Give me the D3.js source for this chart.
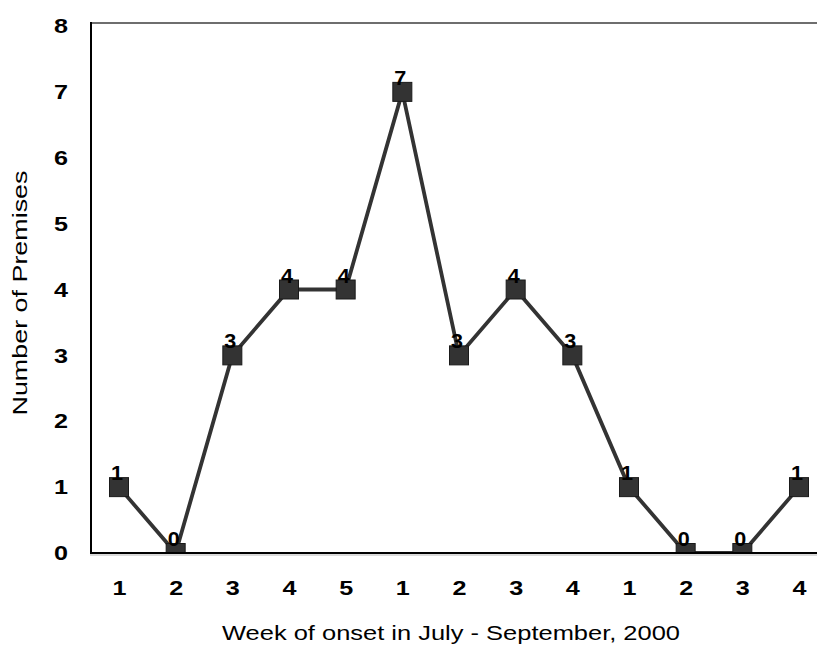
<!DOCTYPE html>
<html>
<head>
<meta charset="utf-8">
<script src="https://cdn.jsdelivr.net/npm/d3@7"></script>
<style>
  html, body { margin: 0; padding: 0; background: #fff; }
  svg { display: block; font-family: "Liberation Sans", Arial, sans-serif; }
</style>
</head>
<body>
<svg id="chart" width="817" height="646"></svg>
<script>
// Week of onset within each month (July, August, September 2000)
const weekLabels = ["1", "2", "3", "4", "5", "1", "2", "3", "4", "1", "2", "3", "4"];
// Number of premises with onset in each week
const premises = [1, 0, 3, 4, 4, 7, 3, 4, 3, 1, 0, 0, 1];
// Y-axis tick values
const yTicks = [0, 1, 2, 3, 4, 5, 6, 7, 8];

const svg = d3.select("#chart");
const W = 817, H = 646;
const plotLeft = 91, plotBottom = 553;

const idx = weekLabels.map((_, i) => i);
const x = d3.scalePoint().domain(idx).range([90.67, 827.33]).padding(0.5);
const y = d3.scaleLinear().domain([0, 8]).range([553, 26]);

// Clip marks to the plotting area so points at zero sit on the axis
svg.append("defs").append("clipPath").attr("id", "plotClip")
  .append("rect")
  .attr("x", plotLeft).attr("y", 0)
  .attr("width", W - plotLeft).attr("height", plotBottom - 1);

// Frame: grey top edge
svg.append("line")
  .attr("x1", plotLeft).attr("x2", W)
  .attr("y1", y(8) - 3).attr("y2", y(8) - 3)
  .attr("stroke", "#6e6e6e").attr("stroke-width", 2);

// Bold digits, drawn slightly wide
function styleDigits(sel, size, len) {
  sel.attr("font-size", size).attr("font-weight", "bold").attr("fill", "#000")
    .attr("font-family", "Liberation Sans, Arial, sans-serif")
    .attr("textLength", len).attr("lengthAdjust", "spacingAndGlyphs");
}

// Y axis labels
const yAxis = d3.axisLeft(y).tickValues(yTicks).tickSize(0).tickPadding(23)
  .tickFormat(d3.format("d"));
const gy = svg.append("g").attr("transform", `translate(${plotLeft},0)`).call(yAxis);
gy.select(".domain").remove();
styleDigits(gy.selectAll("text"), 21, 14);

// X axis labels
const xAxis = d3.axisBottom(x).tickSize(0).tickPadding(27)
  .tickFormat(i => weekLabels[i]);
const gx = svg.append("g").attr("transform", `translate(0,${y(0)})`).call(xAxis);
gx.select(".domain").remove();
styleDigits(gx.selectAll("text"), 21, 14);

// Series line and square markers
const plot = svg.append("g").attr("clip-path", "url(#plotClip)");
const line = d3.line().x((d, i) => x(i)).y(d => y(d));
plot.append("path")
  .datum(premises)
  .attr("d", line)
  .attr("fill", "none")
  .attr("stroke", "#333")
  .attr("stroke-width", 3.8)
  .attr("stroke-linejoin", "miter");

const size = 19;
plot.selectAll("rect.pt")
  .data(premises)
  .join("rect")
  .attr("class", "pt")
  .attr("x", (d, i) => x(i) - size / 2)
  .attr("y", d => y(d) - size / 2)
  .attr("width", size).attr("height", size)
  .attr("fill", "#333")
  .attr("stroke", "#1a1a1a").attr("stroke-width", 1);

// Axis lines
svg.append("line")
  .attr("x1", plotLeft).attr("x2", plotLeft)
  .attr("y1", y(8) - 4).attr("y2", y(0) + 1)
  .attr("stroke", "#000").attr("stroke-width", 2);
svg.append("line")
  .attr("x1", plotLeft - 1).attr("x2", W)
  .attr("y1", y(0)).attr("y2", y(0))
  .attr("stroke", "#000").attr("stroke-width", 2);
svg.append("line")
  .attr("x1", plotLeft - 1).attr("x2", W)
  .attr("y1", y(0) + 2).attr("y2", y(0) + 2)
  .attr("stroke", "#b5b5b5").attr("stroke-width", 1.2);

// Value labels above each marker
const vals = svg.selectAll("text.val")
  .data(premises)
  .join("text")
  .attr("class", "val")
  .attr("x", (d, i) => x(i) - 2)
  .attr("y", d => y(d) - 7)
  .attr("text-anchor", "middle")
  .text(d => d);
styleDigits(vals, 20, 12);

// Axis titles
svg.append("text")
  .attr("x", 451).attr("y", 640)
  .attr("text-anchor", "middle")
  .attr("font-size", 21).attr("fill", "#000")
  .attr("textLength", 458).attr("lengthAdjust", "spacingAndGlyphs")
  .text("Week of onset in July - September, 2000");

svg.append("text")
  .attr("transform", "translate(27,293) rotate(-90)")
  .attr("text-anchor", "middle")
  .attr("font-size", 21).attr("fill", "#000")
  .attr("textLength", 245).attr("lengthAdjust", "spacingAndGlyphs")
  .text("Number of Premises");
</script>
</body>
</html>
